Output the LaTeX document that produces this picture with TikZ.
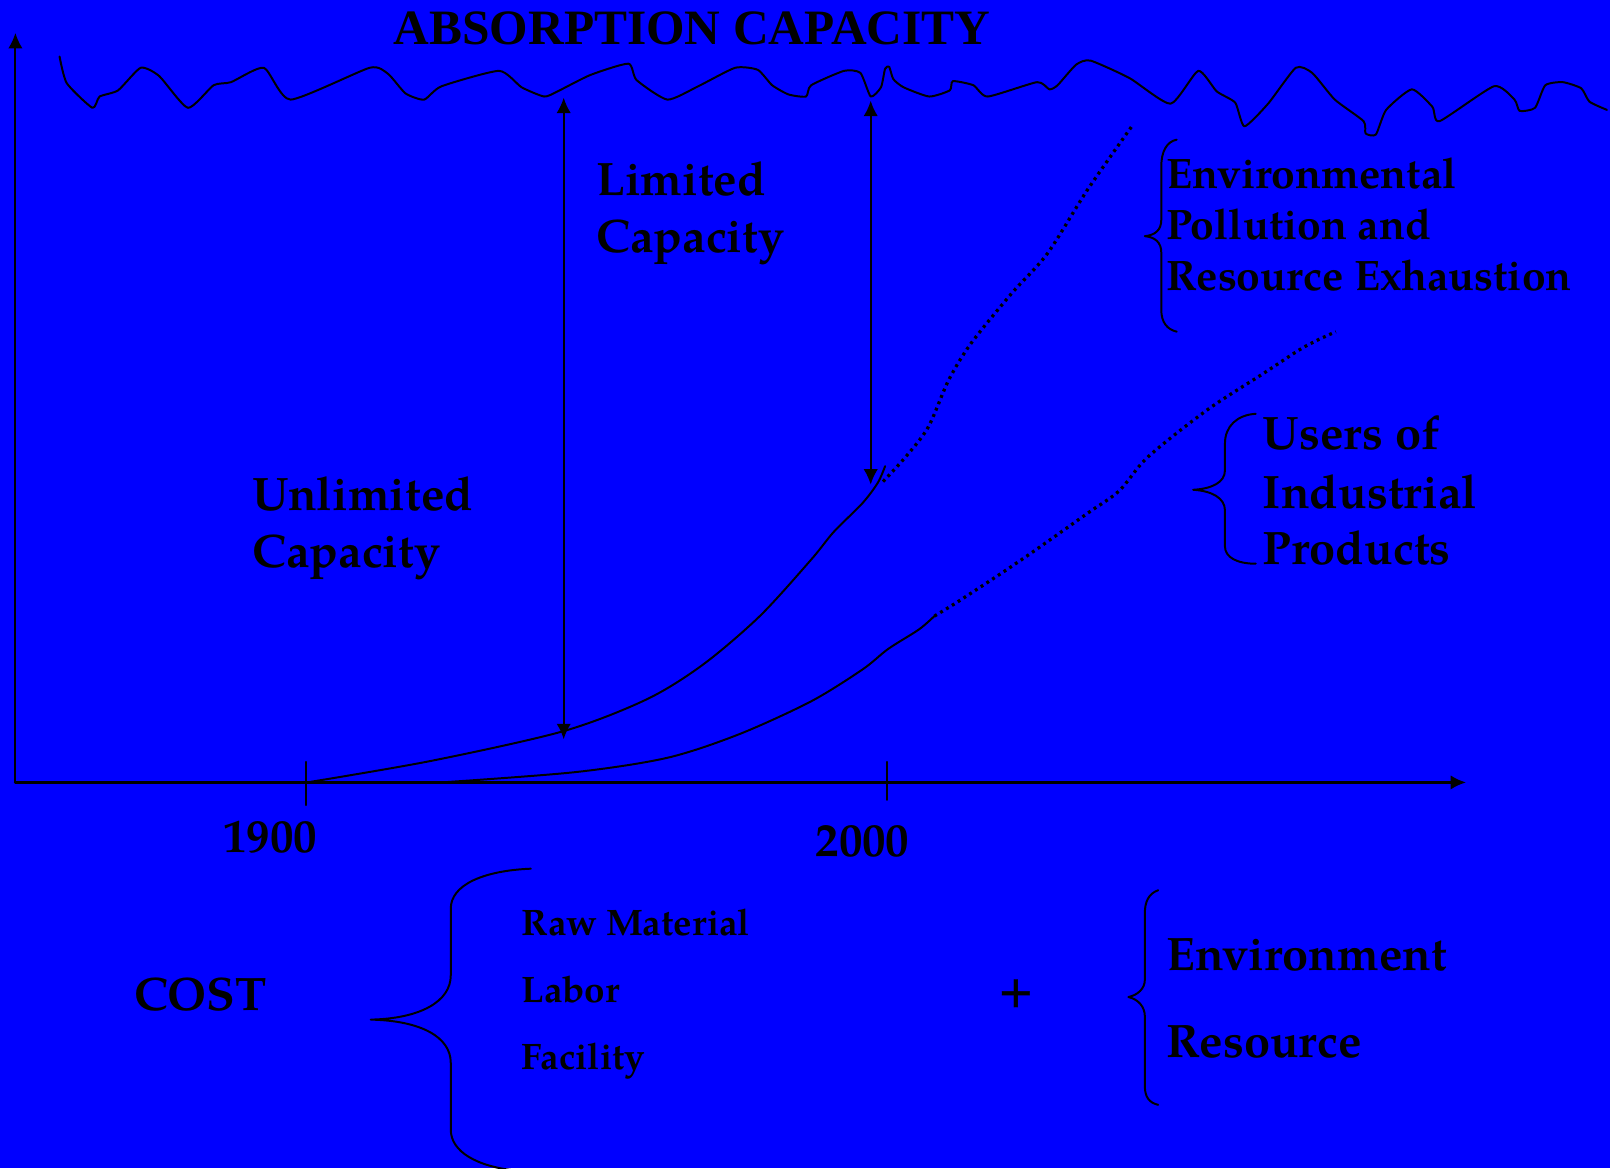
\documentclass[tikz,border=0pt]{standalone}
\usepackage{fontspec}
\setmainfont{TeX Gyre Pagella}
\newfontfamily\titlefont{Liberation Serif}
\usetikzlibrary{arrows.meta}
\begin{document}
\begin{tikzpicture}[x=0.01cm,y=-0.01cm,line join=round,line cap=round,line width=0.55pt,
	>={Latex[length=4.3pt,width=4pt]},
	big/.style={font=\bfseries\fontsize{13}{15}\selectfont,anchor=base west,inner sep=0pt},
	mid/.style={font=\bfseries\fontsize{11.8}{14}\selectfont,anchor=base west,inner sep=0pt},
	small/.style={font=\bfseries\fontsize{10.2}{12}\selectfont,anchor=base west,inner sep=0pt},
	dots/.style={line width=0.9pt,line cap=butt,dash pattern=on 0.8pt off 1.1pt}]
		\useasboundingbox (0,0) rectangle (1568,1138);
		\fill[blue] (0,0) rectangle (1568,1138);
		\node[font=\titlefont\bfseries\fontsize{13.7}{16}\selectfont,anchor=base,inner sep=0pt] (title) at (674,43) {ABSORPTION CAPACITY};
		% axes
		\coordinate (O) at (15,762);
		\coordinate (xend) at (1428,762);
		\coordinate (yend) at (15,32);
		\draw[->,line width=0.85pt] (O)--(xend);
		\draw[->] (O)--(yend);
		\draw (298,742)--(298,784);
		\draw (864,742)--(864,779);
		\node[big,anchor=base] (t1900) at (263,830) {1900};
		\node[big,anchor=base] (t2000) at (840,834) {2000};
		% absorption limit
		\draw[smooth,tension=0.35] plot coordinates {(58,55) (65,81) (90,105) (97,94) (115,88) (137,66) (155,74) (183,105) (208,83) (225,80) (257,66) (283,97) (360,66) (378,72) (395,91) (413,97) (430,84) (486,69) (508,85) (530,94) (543,89) (575,73) (612,62) (620,78) (650,97) (680,84) (716,66) (738,68) (752,83) (768,92) (785,94) (790,83) (822,69) (838,71) (848,94) (858,85) (862,67) (866,65) (870,77) (880,85) (905,94) (925,88) (928,79) (948,83) (962,94) (1010,80) (1022,87) (1030,83) (1048,63) (1062,59) (1100,76) (1140,101) (1167,69) (1185,89) (1203,100) (1212,123) (1235,101) (1262,66) (1278,71) (1300,97) (1328,118) (1330,130) (1340,131) (1350,107) (1375,87) (1395,104) (1402,118) (1455,84) (1475,97) (1480,108) (1495,105) (1505,83) (1522,80) (1540,86) (1548,99) (1565,107)};
		% capacity arrows
		\coordinate (a1) at (549,95);
		\coordinate (a2) at (549,720);
		\coordinate (b1) at (848,98);
		\coordinate (b2) at (848,472);
		\draw[<->] (a1)--(a2);
		\draw[<->] (b1)--(b2);
		% growth curves
		\draw[smooth] plot coordinates {(299,762) (420,741) (549,712) (630,681) (685,647) (740,600) (790,545) (812,518) (840,490) (855,470) (862,454)};
		\draw[dots,smooth] plot coordinates {(860,469) (882,445) (904,416) (924,370) (946,334) (985,286) (1020,247) (1059,185) (1103,122)};
		\draw[smooth] plot coordinates {(430,762) (560,752) (650,738) (720,715) (790,683) (840,652) (865,632) (895,613) (910,600)};
		\draw[dots,smooth] plot coordinates {(910,600) (936,584) (995,545) (1059,500) (1090,478) (1118,445) (1176,399) (1230,364) (1270,338) (1301,323)};
		% braces
		\draw (1146,136) .. controls (1136,138) and (1131,148) .. (1131,162)--(1131,214) .. controls (1131,224) and (1125,229) .. (1115,230) .. controls (1125,231) and (1131,236) .. (1131,246)--(1131,302) .. controls (1131,314) and (1137,321) .. (1146,323);
		\draw (1223,403) .. controls (1205,404) and (1193,415) .. (1193,432)--(1193,458) .. controls (1193,470) and (1180,476) .. (1162,477) .. controls (1180,478) and (1193,485) .. (1193,497)--(1193,532) .. controls (1193,543) and (1205,549) .. (1223,549);
		\draw (517,846) .. controls (470,848) and (439,862) .. (439,885)--(439,950) .. controls (439,975) and (410,992) .. (361,993) .. controls (410,994) and (439,1010) .. (439,1035)--(439,1100) .. controls (439,1122) and (465,1136) .. (502,1140);
		\draw (1128,867) .. controls (1119,870) and (1115,878) .. (1115,889)--(1115,954) .. controls (1115,963) and (1108,969) .. (1099,971) .. controls (1108,973) and (1115,980) .. (1115,990)--(1115,1058) .. controls (1115,1068) and (1119,1074) .. (1128,1076);
		% labels
		\node[big] (lim1) at (580,190) {Limited};
		\node[big] (lim2) at (580,246) {Capacity};
		\node[big] (unl1) at (245,497) {Unlimited};
		\node[big] (unl2) at (245,553) {Capacity};
		\node[mid] (env1) at (1135,184) {Environmental};
		\node[mid] (env2) at (1135,233) {Pollution and};
		\node[mid] (env3) at (1135,283) {Resource Exhaustion};
		\node[big] (usr1) at (1229,438) {Users of};
		\node[big] (usr2) at (1229,495) {Industrial};
		\node[big] (usr3) at (1229,550) {Products};
		\node[big] (cost) at (130,984) {COST};
		\node[small] (raw) at (507,911) {Raw Material};
		\node[small] (lab) at (507,976) {Labor};
		\node[small] (fac) at (507,1042) {Facility};
		\node[big,anchor=center] (plus) at (990,968) {+};
		\node[big] (envt) at (1135,945) {Environment};
		\node[big] (res) at (1135,1030) {Resource};
\end{tikzpicture}
\end{document}
